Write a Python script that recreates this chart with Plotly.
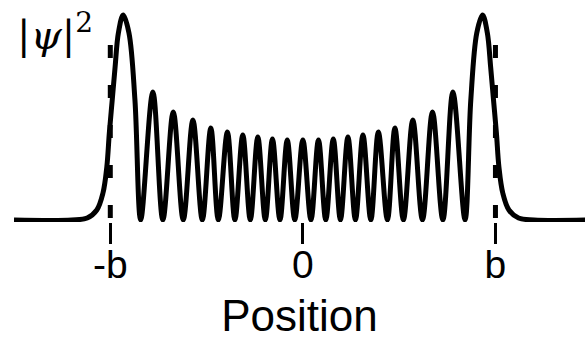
import plotly.graph_objects as go

# Position in units of the classical turning point b; height in arbitrary units
CURVE_X = [
    -1.50, -1.20, -1.12, -1.07, -1.038, -1.018, -1.005, -0.990, -0.975, -0.958,
    -0.933, -0.903, -0.872, -0.842,
    -0.779, -0.727, -0.673, -0.621, -0.571, -0.522, -0.478, -0.439, -0.392, -0.353,
    -0.312, -0.273, -0.234, -0.195, -0.158, -0.119, -0.081, -0.042,
    0.0,
    0.042, 0.081, 0.119, 0.158, 0.195, 0.234, 0.273, 0.312,
    0.353, 0.392, 0.439, 0.478, 0.522, 0.571, 0.621, 0.673, 0.727, 0.779,
    0.842, 0.872, 0.903, 0.933,
    0.958, 0.975, 0.990, 1.005, 1.018, 1.038, 1.07, 1.12, 1.20, 1.50,
]
CURVE_Y = [
    0, 0, 2, 10, 27, 53, 87, 120, 153, 187,
    205, 187, 120, 0,
    128, 0, 108, 0, 100, 0, 92, 0, 88, 0,
    85, 0, 83, 0, 81, 0, 80, 0,
    80,
    0, 80, 0, 81, 0, 83, 0, 85,
    0, 88, 0, 92, 0, 100, 0, 108, 0, 128,
    0, 120, 187, 205,
    187, 153, 120, 87, 53, 27, 10, 2, 0, 0,
]

TICK_VALS = [-1, 0, 1]
TICK_TEXT = ["-b", "0", "b"]
TURNING_POINTS = [-1, 1]
DASH_TOP = 175

fig = go.Figure()
fig.add_trace(go.Scatter(
    x=CURVE_X, y=CURVE_Y, mode="lines",
    line=dict(color="black", width=5, shape="spline", smoothing=1),
    hoverinfo="skip", showlegend=False,
))

for xb in TURNING_POINTS:
    fig.add_shape(type="line", xref="x", yref="y",
                  x0=xb, x1=xb, y0=DASH_TOP, y1=0,
                  line=dict(color="black", width=5, dash="13px,27px"),
                  layer="above")

fig.add_annotation(
    text="|<i>ψ</i>|<sup>2</sup>", xref="paper", yref="paper",
    x=0.002, y=0.885, xanchor="left", yanchor="middle", showarrow=False,
    font=dict(family="DejaVu Serif", size=40, color="black"),
)

fig.update_layout(
    width=585, height=342,
    margin=dict(l=14, r=0, t=7, b=120),
    paper_bgcolor="white", plot_bgcolor="white",
    font=dict(family="Liberation Sans", color="black"),
    xaxis=dict(
        range=[-1.5, 1.465], showgrid=False, zeroline=False, showline=False,
        tickmode="array", tickvals=TICK_VALS, ticktext=TICK_TEXT,
        ticks="outside", ticklen=21, tickwidth=3, tickcolor="black",
        ticklabelstandoff=-13,
        tickfont=dict(size=39, family="Liberation Sans", color="black"),
        title=dict(text="Position", font=dict(size=44, family="Liberation Sans", color="black"),
                   standoff=15),
    ),
    yaxis=dict(range=[-2, 213], visible=False),
)

fig.write_html(
    "out.html",
    config={"displayModeBar": False},
    post_script="document.body.style.margin='0';document.body.style.padding='0';",
)
